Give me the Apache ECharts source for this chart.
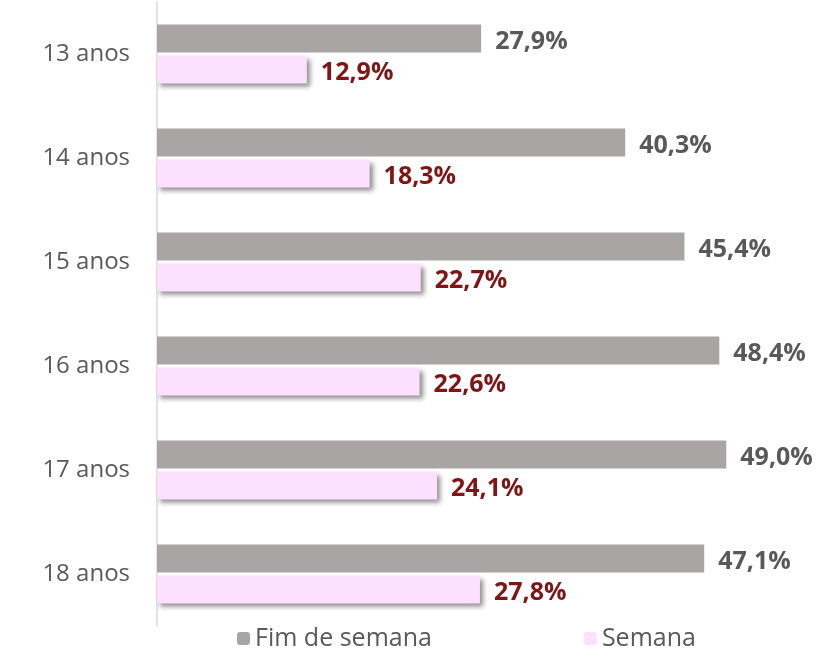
<!DOCTYPE html>
<html>
<head>
<meta charset="utf-8">
<script src="https://cdn.jsdelivr.net/npm/echarts@6/dist/echarts.min.js"></script>
<style>
    html, body { margin: 0; padding: 0; background: #fff; }
    #chart { width: 828px; height: 668px; }
</style>
</head>
<body>
<div id="chart"></div>
<script>
    var categories = ['13 anos', '14 anos', '15 anos', '16 anos', '17 anos', '18 anos'];
    var fimDeSemana = [27.9, 40.3, 45.4, 48.4, 49.0, 47.1];
    var semana = [12.9, 18.3, 22.7, 22.6, 24.1, 27.8];

    var myChart = echarts.init(document.getElementById('chart'));
    function fmt(p) {
        return p.value.toFixed(1).replace('.', ',') + '%';
    }
    var option = {
        textStyle: { fontFamily: 'Open Sans' },
        grid: {//图表区域
            left: 157,
            top: 2,
            height: 624,
            right: 32
        },
        legend: {
            bottom: 12,
            left: 232,
            itemGap: 152,
            itemWidth: 13,
            itemHeight: 13,
            textStyle: { color: '#595959', fontSize: 25, fontFamily: 'Open Sans' },
            data: ['Fim de semana', 'Semana']
        },
        xAxis: {
            type: 'value',
            min: 0,
            max: 55,
            show: false
        },
        yAxis: {
            type: 'category',
            inverse: true,
            data: categories,
            axisTick: { show: false },
            axisLine: { show: true, lineStyle: { color: '#d9d9d9', width: 1.5 } },
            axisLabel: { color: '#595959', fontSize: 24, margin: 27 }
        },
        series: [{
            name: 'Fim de semana',
            type: 'bar',
            barWidth: 28,
            barGap: '10%',
            data: fimDeSemana,
            itemStyle: { color: '#a9a5a5' },
            label: {
                show: true,
                position: 'right',
                distance: 14,
                offset: [0, 3],
                color: '#595959',
                fontSize: 25,
                fontWeight: 'bold',
                formatter: fmt
            }
        }, {
            name: 'Semana',
            type: 'bar',
            barWidth: 28,
            data: semana,
            itemStyle: {
                color: '#fde0fd',
                shadowColor: 'rgba(0,0,0,0.45)',
                shadowBlur: 5,
                shadowOffsetX: 3,
                shadowOffsetY: 4
            },
            label: {
                show: true,
                position: 'right',
                distance: 14,
                offset: [0, 3],
                color: '#7f1515',
                fontSize: 25,
                fontWeight: 'bold',
                formatter: fmt
            }
        }]
    };
    myChart.setOption(option);
</script>
</body>
</html>
